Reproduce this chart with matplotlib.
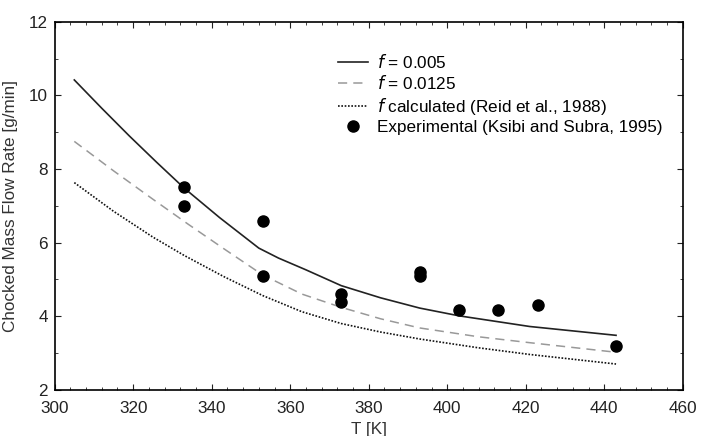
import matplotlib
matplotlib.use("Agg")
import matplotlib.pyplot as plt
from matplotlib.ticker import MultipleLocator

plt.rcParams["font.family"] = ["Liberation Sans", "DejaVu Sans"]

# ----------------------------
# Data
# ----------------------------
T_solid = [305, 312, 319, 326, 333, 342, 352, 357, 364, 373, 383, 393, 403, 421, 443]
m_solid = [10.42, 9.65, 8.9, 8.18, 7.48, 6.68, 5.85, 5.58, 5.26, 4.83, 4.5, 4.22, 4.01, 3.72, 3.48]

T_dash = [305, 315, 325, 334, 343, 353, 363, 373, 383, 393, 408, 421, 443]
m_dash = [8.75, 7.95, 7.18, 6.5, 5.84, 5.12, 4.6, 4.24, 3.93, 3.68, 3.44, 3.28, 3.02]

T_dot = [305, 315, 325, 333, 343, 353, 363, 373, 383, 393, 408, 421, 443]
m_dot = [7.63, 6.85, 6.15, 5.65, 5.08, 4.56, 4.12, 3.8, 3.57, 3.38, 3.14, 2.96, 2.7]

T_exp = [333, 333, 353, 353, 373, 373, 393, 393, 403, 413, 423, 443]
m_exp = [7.5, 7.0, 6.6, 5.1, 4.6, 4.38, 5.2, 5.1, 4.18, 4.18, 4.3, 3.2]

fig = plt.figure(figsize=(7.01, 4.36), dpi=100)
ax = fig.add_axes([0.078, 0.106, 0.896, 0.844])

ax.plot(T_solid, m_solid, color="#222222", lw=1.2, ls="-",
        label=r"$f$ = 0.005")
ax.plot(T_dash, m_dash, color="#999999", lw=1.1, ls=(0, (6, 4)),
        label=r"$f$ = 0.0125")
ax.plot(T_dot, m_dot, color="#111111", lw=1.2, ls=(0, (1, 1)),
        label=r"$f$ calculated (Reid et al., 1988)")
ax.plot(T_exp, m_exp, "o", color="black", ms=8, ls="none",
        label="Experimental (Ksibi and Subra, 1995)")

ax.set_xlim(300, 460)
ax.set_ylim(2, 12)
ax.xaxis.set_major_locator(MultipleLocator(20))
ax.xaxis.set_minor_locator(MultipleLocator(4))
ax.yaxis.set_major_locator(MultipleLocator(2))
ax.yaxis.set_minor_locator(MultipleLocator(1))
ax.tick_params(which="both", direction="in", top=True, right=True,
               labelsize=12.3, color="#222222", labelcolor="#222222")
ax.tick_params(axis="x", which="major", length=4, pad=8)
ax.tick_params(axis="y", which="major", length=4, pad=5)
ax.tick_params(which="minor", length=2.5)
for s in ax.spines.values():
    s.set_linewidth(1.2)

ax.set_xlabel("T [K]", fontsize=12.3, color="#333333")
ax.xaxis.set_label_coords(0.5, -0.088)
ax.set_ylabel("Chocked Mass Flow Rate [g/min]", fontsize=12.3, color="#333333")
ax.yaxis.set_label_coords(-0.058, 0.5)

leg = ax.legend(loc="upper left", bbox_to_anchor=(0.4506, 0.916), frameon=False,
                fontsize=12.3, handlelength=1.75, labelspacing=0.2,
                handletextpad=0.55, borderaxespad=0, borderpad=0)

fig.savefig("out.png", dpi=100)
